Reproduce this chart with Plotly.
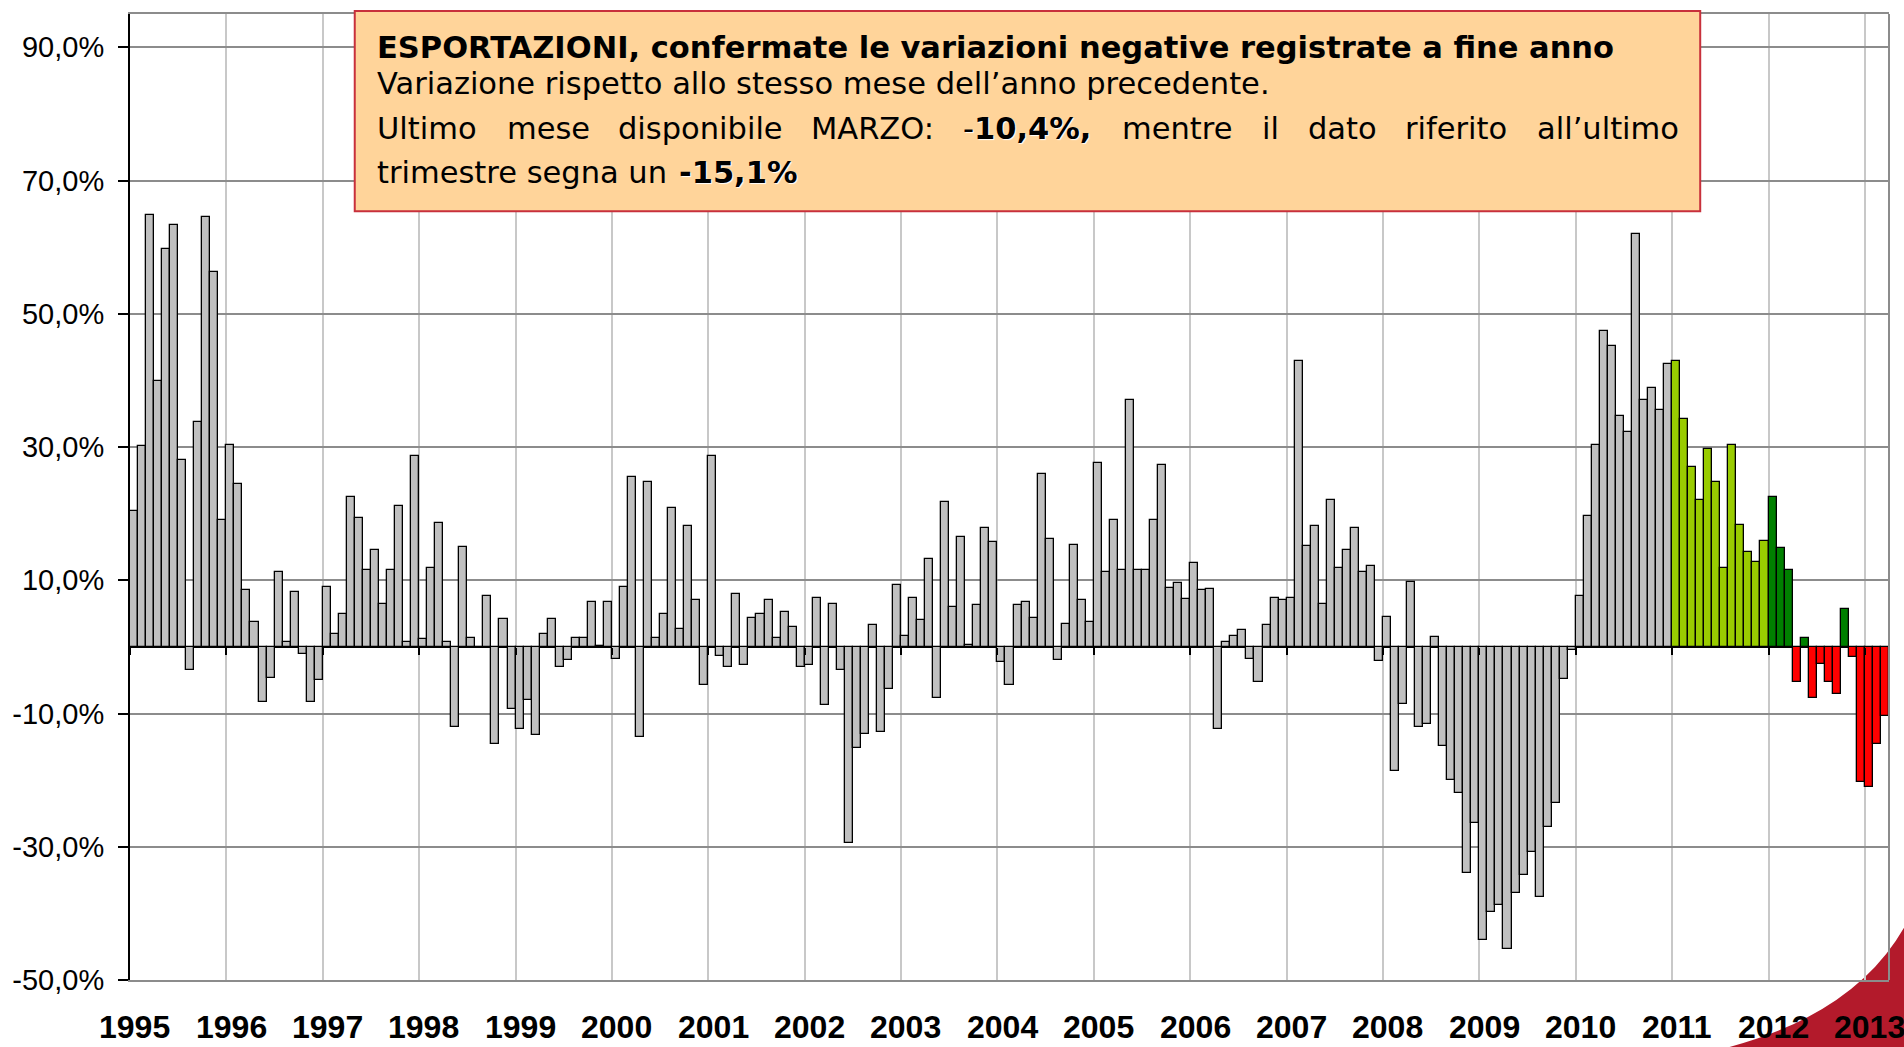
import plotly.graph_objects as go

# ---------------- data (monthly y/y % change, Jan 1995 - Mar 2013) ----------------
years = list(range(1995, 2014))
v1995 = [20.4, 30.1, 64.8, 39.9, 59.8, 63.3, 28.1, -3.5, 33.7, 64.5, 56.2, 19.0]
v1996 = [30.3, 24.5, 8.5, 3.8, -8.2, -4.7, 11.2, 0.8, 8.2, -1.0, -8.2, -4.9]
v1997 = [9.0, 1.9, 4.9, 22.5, 19.3, 11.5, 14.5, 6.5, 11.5, 21.2, 0.8, 28.6]
v1998 = [1.2, 11.8, 18.6, 0.8, -12.0, 15.0, 1.3, -0.2, 7.7, -14.5, 4.2, -9.3]
v1999 = [-12.3, -8.0, -13.2, 2.0, 4.2, -3.0, -2.0, 1.3, 1.3, 6.8, 0.2, 6.8]
v2000 = [-1.8, 9.0, 25.5, -13.5, 24.8, 1.3, 4.9, 20.9, 2.7, 18.1, 7.1, -5.7]
v2001 = [28.6, -1.3, -3.0, 8.0, -2.7, 4.3, 4.9, 7.1, 1.4, 5.2, 3.0, -3.0]
v2002 = [-2.7, 7.4, -8.7, 6.5, -3.5, -29.5, -15.2, -13.0, 3.3, -12.7, -6.3, 9.3]
v2003 = [1.7, 7.4, 4.1, 13.2, -7.7, 21.8, 6.0, 16.5, 0.3, 6.3, 17.9, 15.7]
v2004 = [-2.2, -5.7, 6.3, 6.8, 4.3, 25.9, 16.2, -2.0, 3.5, 15.3, 7.1, 3.8]
v2005 = [27.6, 11.3, 19.0, 11.5, 37.1, 11.5, 11.5, 19.0, 27.3, 8.8, 9.6, 7.2]
v2006 = [12.6, 8.5, 8.7, -12.3, 0.7, 1.6, 2.5, -1.8, -5.2, 3.3, 7.4, 7.1]
v2007 = [7.4, 42.9, 15.1, 18.1, 6.5, 22.0, 11.8, 14.5, 17.9, 11.2, 12.1, -2.1]
v2008 = [4.5, -18.7, -8.5, 9.8, -12.0, -11.5, 1.5, -14.8, -20.0, -22.0, -34.0, -26.5]
v2009 = [-44.0, -39.8, -38.8, -45.3, -37.0, -34.3, -30.8, -37.6, -27.0, -23.4, -4.8, -0.5]
v2010 = [7.7, 19.7, 30.3, 47.4, 45.1, 34.6, 32.2, 62.0, 37.0, 38.8, 35.5, 42.4]
v2011 = [42.9, 34.2, 27.0, 22.0, 29.7, 24.8, 11.8, 30.3, 18.3, 14.2, 12.8, 15.9]
v2012 = [22.5, 14.8, 11.5, -5.2, 1.3, -7.7, -2.5, -5.2, -7.0, 5.7, -1.5, -20.3]
v2013 = [-21.0, -14.5, -10.4]
series = [v1995, v1996, v1997, v1998, v1999, v2000, v2001, v2002, v2003, v2004,
          v2005, v2006, v2007, v2008, v2009, v2010, v2011, v2012, v2013]

y_ticks = [-50, -30, -10, 10, 30, 50, 70, 90]
y_range = [-50, 95]

# ---------------- build bar series ----------------
vals, yr = [], []
for y, vs in zip(years, series):
    vals += vs
    yr += [y] * len(vs)
xs = list(range(len(vals)))

GRAY, LIME, GREEN, RED = "#C0C0C0", "#99CC00", "#008000", "#FF0000"
colors = [GRAY if y <= 2010 else LIME if y == 2011 else (GREEN if v >= 0 else RED)
          for y, v in zip(yr, vals)]

# ---------------- layout helpers (pixel -> paper) ----------------
W, H = 1904, 1047
L, R, T, B = 128, 15, 13, 67
PW, PH = W - L - R, H - T - B


def px(p):
    return (p - L) / PW


def py(p):
    return (H - B - p) / PH


boundaries = [12 * k - 0.5 for k in range(len(years))]
AX = "Liberation Sans, Arial, sans-serif"
BOX = "DejaVu Sans, sans-serif"

fig = go.Figure()
fig.add_trace(go.Bar(
    x=xs, y=vals, width=1,
    marker=dict(color=colors, line=dict(color="black", width=1.3)),
    hoverinfo="y", showlegend=False))
# helper trace so the tick axis on the zero line is rendered
fig.add_trace(go.Scatter(x=[xs[0]], y=[0], xaxis="x2", mode="markers",
                         marker=dict(opacity=0), hoverinfo="skip", showlegend=False))

fig.update_layout(
    width=W, height=H,
    margin=dict(l=L, r=R, t=T, b=B, pad=0),
    paper_bgcolor="white", plot_bgcolor="rgba(0,0,0,0)",
    bargap=0, showlegend=False,
    xaxis=dict(range=[-0.5, len(vals) - 0.5], tickvals=boundaries[1:],
               showticklabels=False, ticks="", showgrid=True,
               gridcolor="#C8C8C8", gridwidth=2, zeroline=False,
               showline=True, linecolor="#8C8C8C", linewidth=2, mirror=True),
    xaxis2=dict(range=[-0.5, len(vals) - 0.5], overlaying="x", anchor="free",
                position=(0 - y_range[0]) / (y_range[1] - y_range[0]),
                tickvals=boundaries, ticks="outside", ticklen=7, tickwidth=2,
                tickcolor="black", showticklabels=False, showgrid=False,
                zeroline=False, showline=False),
    yaxis=dict(range=y_range, tickvals=y_ticks,
               ticktext=[f"{v:.1f}%".replace(".", ",") for v in y_ticks],
               tickfont=dict(family=AX, size=29, color="black"),
               ticklabelstandoff=8,
               showgrid=True, gridcolor="#8C8C8C", gridwidth=1.5,
               showline=True, linecolor="black", linewidth=2,
               ticks="outside", ticklen=10, tickwidth=2, tickcolor="black",
               zeroline=True, zerolinecolor="black", zerolinewidth=2),
)

shapes = []
# decorative red swoosh bottom-right
shapes.append(dict(type="path", xref="paper", yref="paper", layer="below",
                   path=(f"M {px(1722)},{py(1049)} Q {px(1868)},{py(1012)} {px(1914)},{py(908)} "
                         f"L {px(1914)},{py(1050)} L {px(1722)},{py(1050)} Z"),
                   fillcolor="#B31A2B", line=dict(width=0)))
# right plot border
shapes.append(dict(type="line", xref="paper", yref="paper", x0=1, x1=1, y0=0, y1=1,
                   line=dict(color="#8C8C8C", width=2)))
# text box
shapes.append(dict(type="rect", xref="paper", yref="paper", layer="above",
                   x0=px(353), x1=px(1700), y0=py(210.5), y1=py(10),
                   fillcolor="#FFD49A", line=dict(color="#C8303C", width=2)))
fig.update_layout(shapes=shapes)

ann = []
for k, y in enumerate(years):
    ann.append(dict(x=boundaries[k] + 0.6, y=py(1027), xref="x", yref="paper",
                    text=f"<b>{y}</b>", showarrow=False, xanchor="center", yanchor="middle",
                    font=dict(family=AX, size=32, color="black")))

FS = 30.5
box_font = dict(family=BOX, size=FS, color="black")
shadow_font = dict(family=BOX, size=FS, color="black", shadow="1px 1px 1px white")

ann.append(dict(x=px(373), y=py(46.2), xref="paper", yref="paper", showarrow=False,
                xanchor="left", yanchor="middle", font=box_font,
                text="<b>ESPORTAZIONI, confermate le variazioni negative registrate a fine anno</b>"))
ann.append(dict(x=px(373), y=py(82.8), xref="paper", yref="paper", showarrow=False,
                xanchor="left", yanchor="middle", font=box_font,
                text="Variazione rispetto allo stesso mese dell’anno precedente."))
# justified third line: word start positions (px)
line3 = [("Ultimo", 373), ("mese", 503), ("disponibile", 615), ("MARZO:", 808),
         ("-<b>10,4%,</b>", 960), ("mentre", 1119), ("il", 1259), ("dato", 1305),
         ("riferito", 1402)]
for word, xpos in line3:
    ann.append(dict(x=px(xpos), y=py(127.8), xref="paper", yref="paper", showarrow=False,
                    xanchor="left", yanchor="middle",
                    font=shadow_font if "<b>" in word else box_font, text=word))
ann.append(dict(x=px(1681), y=py(127.8), xref="paper", yref="paper", showarrow=False,
                xanchor="right", yanchor="middle", font=box_font, text="all’ultimo"))
ann.append(dict(x=px(373), y=py(171.2), xref="paper", yref="paper", showarrow=False,
                xanchor="left", yanchor="middle", font=box_font, text="trimestre segna un"))
ann.append(dict(x=px(676), y=py(171.2), xref="paper", yref="paper", showarrow=False,
                xanchor="left", yanchor="middle", font=shadow_font, text="<b>-15,1%</b>"))
fig.update_layout(annotations=ann)

fig.write_html("out.html", config={"displayModeBar": False},
               post_script="document.body.style.margin='0';")
